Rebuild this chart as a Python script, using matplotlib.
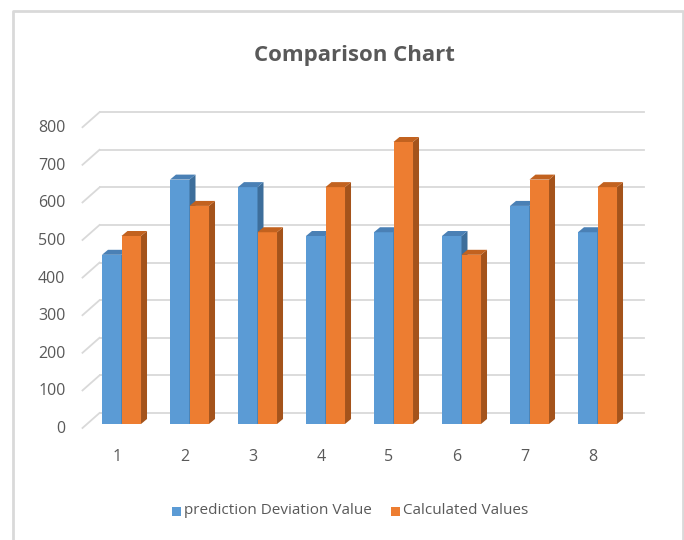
import matplotlib
matplotlib.use("Agg")
import matplotlib.pyplot as plt
from matplotlib import transforms
from matplotlib.patches import Polygon, Rectangle

categories = ["1", "2", "3", "4", "5", "6", "7", "8"]
prediction_deviation = [450, 650, 630, 500, 510, 500, 580, 510]
calculated_values = [500, 580, 510, 630, 750, 450, 650, 630]
y_ticks = [0, 100, 200, 300, 400, 500, 600, 700, 800]
series_names = ["prediction Deviation Value", "Calculated Values"]

FRONT = {"blue": "#5B9BD5", "orange": "#ED7D31"}
SIDE = {"blue": "#3D6E9B", "orange": "#A4531B"}
TOP = {"blue": "#4A80B5", "orange": "#C2621F"}
TEXT = "#595959"
GRID = "#D9D9D9"

W, H = 684, 540
fig = plt.figure(figsize=(W / 100, H / 100), dpi=100)
plt.rcParams["font.family"] = ["Open Sans", "DejaVu Sans"]

# bar plane: x 0.5..8.5 -> px 87.5..631.5, y 0..800 -> px 424..123 (from top)
x0, x1 = 87.5, 631.5
ybot, ytop = 424, 424 - 800 * 0.376
ax = fig.add_axes([x0 / W, 1 - ybot / H, (x1 - x0) / W, (ybot - ytop) / H])
ax.set_xlim(0.5, 8.5)
ax.set_ylim(0, 800)
ax.axis("off")

def shifted(dx, dy):
    return transforms.offset_copy(ax.transData, fig, x=dx, y=dy, units="dots")

back = shifted(12, 11)
front = shifted(-5, -4)

# back-wall gridlines
for v in y_ticks:
    ax.plot([0.5, 8.5], [v, v], transform=back, color=GRID, lw=1.3,
            clip_on=False, zorder=1)
# diagonal connectors from the front plane to the back wall
for v in y_ticks:
    p_front = front.transform((0.5, v))
    p_back = back.transform((0.5, v))
    fig.add_artist(plt.Line2D([p_front[0] / W, p_back[0] / W],
                              [p_front[1] / H, p_back[1] / H],
                              transform=fig.transFigure, color=GRID, lw=1.3))

bw = 0.287
dx_px, dy_px = 6, 5
dxd = dx_px * 8 / (x1 - x0)
dyd = dy_px * 800 / (ybot - ytop)

def draw_bar(xl, h, key):
    xr = xl + bw
    ax.add_patch(Rectangle((xl, 0), bw, h, facecolor=FRONT[key],
                           edgecolor="none", zorder=3, clip_on=False))
    ax.add_patch(Polygon([(xr, 0), (xr + dxd, dyd), (xr + dxd, h + dyd), (xr, h)],
                         closed=True, facecolor=SIDE[key], edgecolor="none",
                         zorder=3, clip_on=False))
    ax.add_patch(Polygon([(xl, h), (xl + dxd, h + dyd), (xr + dxd, h + dyd), (xr, h)],
                         closed=True, facecolor=TOP[key], edgecolor="none",
                         zorder=3, clip_on=False))

for i, (a, b) in enumerate(zip(prediction_deviation, calculated_values)):
    c = i + 1
    draw_bar(c - bw, a, "blue")
    draw_bar(c, b, "orange")

# y tick labels on the front plane
for v in y_ticks:
    ax.text(0.5, v, str(v), transform=shifted(-22, -5), ha="right", va="center",
            fontsize=11.5, color=TEXT, clip_on=False)
# category labels
for i, lab in enumerate(categories):
    ax.text(i + 1, 0, lab, transform=shifted(-4.5, -33), ha="center", va="center",
            fontsize=11.5, color=TEXT, clip_on=False)

fig.text(354 / W, 1 - 55 / H, "Comparison Chart", ha="center", va="center",
         fontsize=16, fontweight="bold", color=TEXT)

# legend
fig.patches.append(Rectangle((172 / W, 1 - 516 / H), 9 / W, 9 / H,
                             transform=fig.transFigure, facecolor=FRONT["blue"],
                             edgecolor="none"))
fig.text(184 / W, 1 - 511 / H, series_names[0], ha="left", va="center",
         fontsize=11, color=TEXT)
fig.patches.append(Rectangle((391 / W, 1 - 516 / H), 9 / W, 9 / H,
                             transform=fig.transFigure, facecolor=FRONT["orange"],
                             edgecolor="none"))
fig.text(403 / W, 1 - 511 / H, series_names[1], ha="left", va="center",
         fontsize=11, color=TEXT)

# chart-area border
fig.add_artist(plt.Line2D([13 / W, 13 / W, 683 / W, 683 / W],
                          [0, 1 - 11 / H, 1 - 11 / H, 0],
                          transform=fig.transFigure, color="#D9D9D9", lw=2))

fig.savefig("out.png", dpi=100)
